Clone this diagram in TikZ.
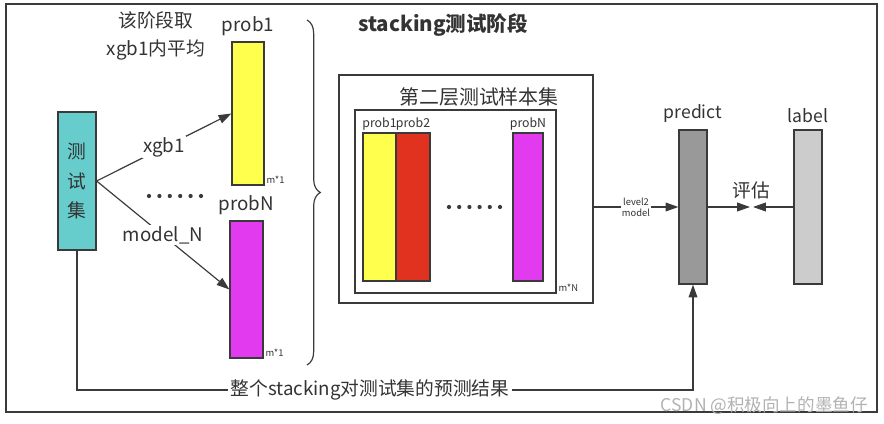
\documentclass[tikz,border=0pt]{standalone}
\usepackage{fontspec}
\setmainfont{Noto Sans CJK SC}
\usepackage{xcolor}
\definecolor{stackTeal}{HTML}{66CCCC}
\definecolor{stackYellow}{HTML}{FFFF4D}
\definecolor{stackRed}{HTML}{E0321F}
\definecolor{stackMagenta}{HTML}{E23AEF}
\definecolor{stackDark}{HTML}{999999}
\definecolor{stackLight}{HTML}{CCCCCC}
\definecolor{stackLine}{HTML}{3A3A3A}
\definecolor{stackText}{HTML}{333333}
\usepackage{tikz}
\usetikzlibrary{arrows.meta, positioning, decorations.pathreplacing}

\begin{document}
\begin{tikzpicture}[
		x=0.03cm, y=-0.03cm,
		text=stackText,
		font=\fontsize{16}{20}\selectfont,
		bar/.style={
			draw=stackLine,
			line width=1pt,
			inner sep=0pt,
			minimum width=0.96cm,
			minimum height=4.3cm
		},
		frame/.style={
			draw=stackLine,
			line width=1pt,
			inner sep=0pt
		},
		small/.style={font=\fontsize{8}{9}\selectfont, inner sep=1.5pt},
		arrow/.style={-{Triangle[length=11pt,width=7.5pt]}, line width=1pt, draw=stackLine},
		dot/.style={fill=stackLine}
		]
		\useasboundingbox (0,0) rectangle (884,424);
		\draw[stackLine, line width=1pt] (6,4) rectangle (877,412);
		
		% test set and first level
		\node[bar, fill=stackTeal, minimum width=1.14cm, minimum height=4.14cm,
			align=center, font=\fontsize{16}{25}\selectfont] (test) at (77,181) {测\\试\\集};
		\node[bar, fill=stackYellow, minimum height=4.29cm] (prob1) at (248,113.5) {};
		\node[bar, fill=stackMagenta, minimum width=0.99cm, minimum height=4.11cm] (probN) at (246.5,289.5) {};
		\node[above=1pt of prob1] (prob1lbl) {prob1};
		\node[above=1pt of probN] (probNlbl) {probN};
		\node[small, anchor=south west] at (prob1.south east) {m*1};
		\node[small, anchor=south west] at (probN.south east) {m*1};
		\node[align=center, font=\fontsize{16}{24}\selectfont] (avg) at (156,36) {该阶段取\\xgb1内平均};
		
		\draw[arrow] (test.east) -- (prob1.west) node[midway, fill=white, inner sep=1pt] {xgb1};
		\draw[arrow] (test.east) -- (probN.west) node[midway, fill=white, inner sep=1pt] {model\_N};
		\foreach \i in {0,...,5}
			\fill[dot] (149+\i*10.4,196) circle (1.8pt);
		
		\draw[stackLine, line width=1pt, decorate, decoration={brace, amplitude=0.4cm}] (307,20) -- (307,365);
		\node[font=\fontsize{17.5}{20}\selectfont\bfseries] (title) at (443,25) {stacking测试阶段};
		
		% second level sample set
		\node[frame, minimum width=7.62cm, minimum height=6.84cm] (outer) at (466,189) {};
		\node[frame, minimum width=6.03cm, minimum height=5.49cm] (inner) at (455.5,201.5) {};
		\node[font=\fontsize{17}{20}\selectfont] (outerlbl) at (479,97) {第二层测试样本集};
		\node[bar, fill=stackYellow, minimum width=0.99cm, minimum height=4.44cm] (col1) at (379.5,207) {};
		\node[bar, fill=stackRed, minimum width=1.02cm, minimum height=4.44cm] (col2) at (413,207) {};
		\node[bar, fill=stackMagenta, minimum width=0.9cm, minimum height=4.44cm] (colN) at (528,207) {};
		\node[font=\fontsize{10.5}{12}\selectfont, inner sep=1pt, above=1pt of col1] {prob1};
		\node[font=\fontsize{10.5}{12}\selectfont, inner sep=1pt, above=1pt of col2] {prob2};
		\node[font=\fontsize{10.5}{12}\selectfont, inner sep=1pt, above=1pt of colN] {probN};
		\node[small, anchor=south west] at (inner.south east) {m*N};
		\foreach \i in {0,...,5}
			\fill[dot] (449+\i*10.2,207) circle (1.8pt);
		
		% prediction and evaluation
		\node[bar, fill=stackDark, minimum width=0.84cm, minimum height=4.62cm] (predict) at (693,207) {};
		\node[bar, fill=stackLight, minimum width=0.84cm, minimum height=4.62cm] (label) at (808,207) {};
		\node[above=2pt of predict, font=\fontsize{15}{18}\selectfont] {predict};
		\node[above=2pt of label, font=\fontsize{15}{18}\selectfont] {label};
		\draw[arrow] (predict.west -| outer.east) -- (predict.west)
			node[midway, fill=white, align=center, font=\fontsize{8}{9.5}\selectfont, inner sep=1pt] {level2\\model};
		\coordinate (evalL) at (750,207);
		\coordinate (evalR) at (753,207);
		\draw[arrow] (predict.east) -- (evalL);
		\draw[arrow] (label.west) -- (evalR);
		\node (eval) at (751,190) {评估};
		
		% whole result
		\node[inner sep=2pt] (result) at (370,390) {整个stacking对测试集的预测结果};
		\draw[stackLine, line width=1pt] (test.south) |- (result.west);
		\draw[arrow] (result.east) -| (predict.south);
		
		\node[anchor=east, text=gray!60, font=\fontsize{15}{17}\selectfont] (mark) at (872,406) {CSDN @积极向上的墨鱼仔};
	\end{tikzpicture}
\end{document}
